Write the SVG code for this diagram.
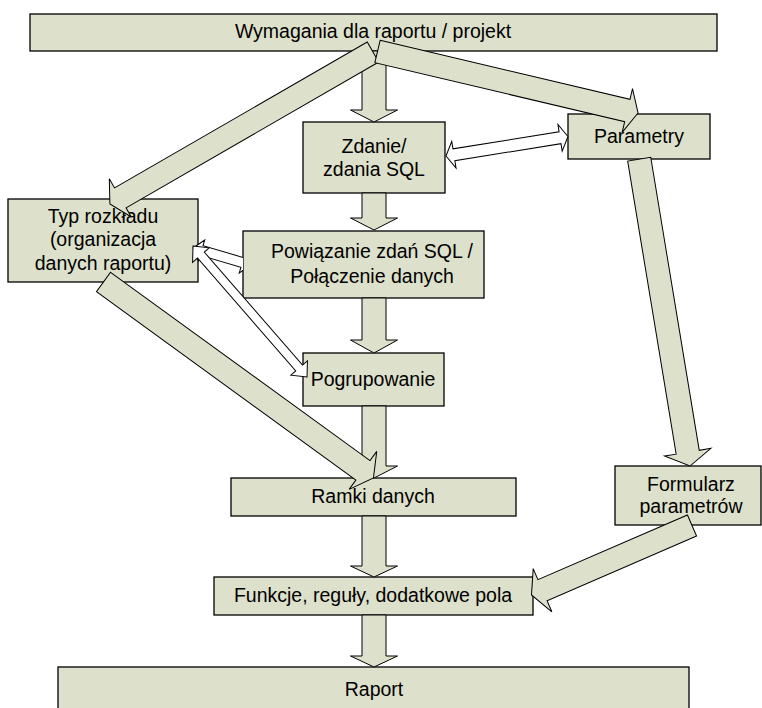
<svg xmlns="http://www.w3.org/2000/svg" width="762" height="708" viewBox="0 0 762 708">
<defs>
<style>
.box{fill:#dde0cb;stroke:#000;stroke-width:1.3}
.arr{fill:#dde0cb;stroke:#000;stroke-width:1}
.thin{fill:#fff;stroke:#000;stroke-width:1}
text{font-family:"Liberation Sans",Arial,sans-serif;font-size:19.5px;fill:#000;text-anchor:middle}
</style>
<clipPath id="clipD"><rect x="0" y="0" width="243" height="708"/></clipPath>
</defs>
<g id="nodes">
<g id="n-top"><rect class="box" x="30" y="14" width="687" height="37"/><text x="373" y="38">Wymagania dla raportu / projekt</text></g>
<g id="n-zdanie"><rect class="box" x="303" y="122" width="142" height="71"/><text x="374" y="153">Zdanie/</text><text x="374" y="176">zdania SQL</text></g>
<g id="n-param"><rect class="box" x="568" y="114" width="142" height="45"/><text x="639" y="143">Parametry</text></g>
<g id="n-typ"><rect class="box" x="8" y="199" width="190" height="83"/><text x="103" y="223">Typ rozkładu</text><text x="103" y="246">(organizacja</text><text x="103" y="270">danych raportu)</text></g>
<g id="n-powiazanie"><rect class="box" x="243" y="231" width="241" height="67"/><text x="372" y="258">Powiązanie zdań SQL /</text><text x="372" y="283">Połączenie danych</text></g>
<g id="n-pogrup"><rect class="box" x="303" y="353" width="141" height="53"/><text x="373" y="386">Pogrupowanie</text></g>
<g id="n-ramki"><rect class="box" x="231" y="478" width="285" height="38"/><text x="373" y="503">Ramki danych</text></g>
<g id="n-formularz"><rect class="box" x="615" y="466" width="146" height="59"/><text x="691" y="491">Formularz</text><text x="691" y="513">parametrów</text></g>
<g id="n-funkcje"><rect class="box" x="214" y="577" width="319" height="38"/><text x="373" y="602">Funkcje, reguły, dodatkowe pola</text></g>
<g id="n-raport"><rect class="box" x="58" y="667" width="631" height="50"/><text x="374" y="696">Raport</text></g>
</g>
<g id="connectors">
<polygon class="arr" points="362,51 386,51 386,110 397.5,110 374,122 350.5,110 362,110"/>
<polygon class="arr" points="362,193 386,193 386,218 397.5,218 374,230 350.5,218 362,218"/>
<polygon class="arr" points="362,298 386,298 386,340 397.5,340 374,353 350.5,340 362,340"/>
<polygon class="arr" points="362,406 386,406 386,466 397.5,466 374,478 350.5,466 362,466"/>
<polygon class="arr" points="362,516 386,516 386,566 397.5,566 374,577 350.5,566 362,566"/>
<polygon class="arr" points="362,615 386,615 386,656 397.5,656 374,667 350.5,656 362,656"/>
<polygon class="arr" transform="translate(373,52) rotate(150)" points="0,-11.5 291.8,-11.5 291.8,-22 303.8,0 291.8,22 291.8,11.5 0,11.5"/>
<polygon class="arr" transform="translate(377.5,51.5) rotate(13.28)" points="0,-11.5 256.7,-11.5 256.7,-22.5 267.7,0 256.7,22.5 256.7,11.5 0,11.5"/>
<polygon class="arr" transform="translate(639.2,159.2) rotate(80.6)" points="0,-11.7 297,-11.7 297,-23.5 311,0 297,23.5 297,11.7 0,11.7"/>
<polygon class="arr" transform="translate(103.5,282) rotate(35.98)" points="0,-12 320.6,-12 320.6,-23.5 333.6,0 320.6,23.5 320.6,12 0,12"/>
<polygon class="arr" transform="translate(692,525.5) rotate(156.59)" points="0,-11.5 162.9,-11.5 162.9,-23.5 174.9,0 162.9,23.5 162.9,11.5 0,11.5"/>
<polygon class="thin" transform="translate(446,156) rotate(-9.08)" points="0,0 8,-13.5 8,-6 115.5,-6 115.5,-13.5 123.5,0 115.5,13.5 115.5,6 8,6 8,13.5"/>
<g clip-path="url(#clipD)"><polygon class="thin" transform="translate(193,248) rotate(16.3)" points="0,0 9,-11 9,-5 51.4,-5 51.4,-11 60.4,0 51.4,11 51.4,5 9,5 9,11"/></g>
<polygon class="thin" transform="translate(193,246) rotate(48.97)" points="0,0 12,-11 12,-4.5 161.7,-4.5 161.7,-11 173.7,0 161.7,11 161.7,4.5 12,4.5 12,11"/>
</g>
</svg>
